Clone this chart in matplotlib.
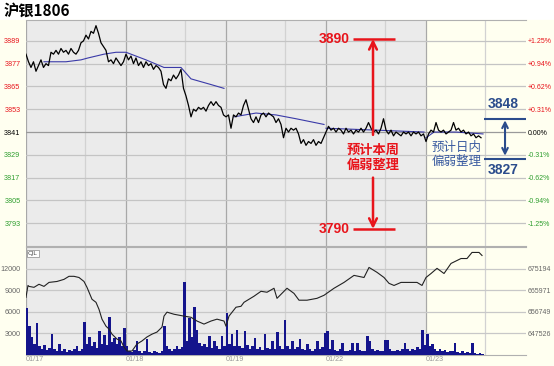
import matplotlib
matplotlib.use('Agg')
import matplotlib.pyplot as plt
import numpy as np

plt.rcParams['font.family'] = ['Liberation Sans', 'Noto Sans CJK SC', 'DejaVu Sans']

# price, 40 samples per trading day
price = [
    3882, 3878, 3875, 3878, 3873, 3876, 3879, 3875, 3877, 3876,
    3883, 3882, 3884, 3882, 3885, 3883, 3884, 3882, 3885, 3883,
    3882, 3884, 3888, 3889, 3892, 3890, 3894, 3893, 3897, 3893,
    3888, 3886, 3884, 3878, 3879, 3877, 3880, 3878, 3876, 3878,
    3882, 3879, 3881, 3877, 3880, 3876, 3878, 3875, 3878, 3876,
    3877, 3874, 3876, 3875, 3873, 3866, 3864, 3869, 3868, 3871,
    3869, 3871, 3874, 3864, 3860, 3855, 3849, 3853, 3852, 3854,
    3853, 3854, 3852, 3855, 3857, 3855, 3857, 3855, 3854, 3850,
    3849, 3850, 3843, 3850, 3849, 3851, 3850, 3855, 3858, 3853,
    3848, 3846, 3849, 3846, 3850, 3851, 3849, 3851, 3850, 3849,
    3846, 3848, 3845, 3838, 3843, 3841, 3843, 3842, 3843, 3840,
    3835, 3837, 3834, 3836, 3835, 3837, 3834, 3836, 3835, 3838,
    3841, 3844, 3842, 3843, 3841, 3843, 3842, 3840, 3843, 3841,
    3842, 3840, 3842, 3841, 3843, 3841, 3843, 3846, 3843, 3841,
    3842, 3840, 3843, 3848, 3842, 3840, 3842, 3839, 3841, 3840,
    3839, 3841, 3840, 3841, 3839, 3841, 3840, 3841, 3839, 3840,
    3836, 3840, 3842, 3841, 3846, 3842, 3841, 3842, 3840, 3841,
    3842, 3846, 3842, 3843, 3841, 3842, 3840, 3841, 3839, 3840,
    3838, 3839, 3838,
]

volume = [
    6500, 4000, 2500, 1500, 4400, 1200, 900, 1400, 700, 1000,
    2900, 800, 600, 1500, 500, 900, 400, 700, 500, 800,
    1200, 600, 900, 4600, 1500, 2500, 1200, 1800, 1000, 3400,
    1500, 2800, 1400, 5300, 1800, 2400, 1500, 2500, 1200, 3800,
    1200, 600, 400, 700, 1900, 500, 300, 600, 2200, 400,
    300, 500, 400, 300, 600, 4000, 1200, 800, 600, 900,
    1300, 800, 1100, 10100, 2000, 5200, 2500, 6700, 3500, 1600,
    1200, 1500, 1100, 2600, 1000, 1900, 1200, 900, 2600, 1300,
    5900, 1500, 2900, 1200, 3500, 1300, 1000, 3300, 1400, 900,
    1200, 2400, 800, 1100, 700, 2900, 1000, 800, 2000, 900,
    3200, 1200, 900, 4800, 1300, 900, 2000, 800, 1100, 2200,
    900, 700, 1500, 800, 600, 900, 2000, 800, 1100, 3000,
    3400, 900, 2100, 700, 600, 800, 1600, 600, 500, 700,
    1600, 500, 1600, 700, 500, 600, 2700, 2000, 900, 600,
    700, 500, 600, 2100, 2100, 900, 600, 500, 700, 600,
    800, 1700, 900, 600, 800, 700, 1100, 900, 3500, 1400,
    2900, 1200, 1500, 800, 600, 900, 500, 700, 400, 600,
    500, 1600, 400, 300, 500, 300, 400, 300, 1600, 300,
    200, 300, 200,
]

# average price line (nan = break between sessions)
avg_t = [0.18, 0.40, 0.55, 0.62, 0.78, 0.90, 1.00, 1.20, 1.38, 1.55, 1.65, 1.85, 1.98, np.nan,
         2.08, 2.30, 2.50, 2.70, 2.98, np.nan,
         3.00, 3.50, 3.98, np.nan,
         4.00, 4.08, 4.30, 4.57]
avg_p = [3878, 3878, 3879, 3880, 3882, 3883, 3883, 3879, 3875, 3875, 3869, 3866, 3864, np.nan,
         3849, 3851, 3850, 3848, 3845, np.nan,
         3843, 3842, 3841, np.nan,
         3838, 3841, 3841, 3840]

# open interest
oi_t = [0.00, 0.02, 0.03, 0.08, 0.13, 0.18, 0.23, 0.31, 0.38, 0.43, 0.48, 0.53, 0.58, 0.61,
        0.66, 0.70, 0.73, 0.76, 0.80, 0.83, 0.86, 0.91, 0.95, 0.98, 1.01, 1.06, 1.11, 1.16,
        1.21, 1.26, 1.31, 1.36, 1.38, 1.41, 1.48, 1.58, 1.65, 1.71, 1.78, 1.85, 1.91, 1.98,
        2.00, 2.03, 2.10, 2.15, 2.18, 2.28, 2.35, 2.41, 2.48, 2.51, 2.61, 2.68, 2.73, 2.81,
        2.91, 2.98, 3.08, 3.18, 3.28, 3.38, 3.43, 3.51, 3.58, 3.63, 3.68, 3.75, 3.85, 3.91,
        3.96, 4.00, 4.05, 4.11, 4.18, 4.25, 4.35, 4.41, 4.46, 4.53, 4.56]
oi = [662900, 668000, 667600, 667200, 668500, 667600, 669300, 669700, 670600, 671900,
      671900, 671400, 669700, 667200, 662100, 660800, 657800, 653600, 650600, 649400,
      647200, 645100, 644300, 641700, 640000, 640000, 643000, 644300, 646000, 647200,
      648100, 650200, 654900, 656600, 655700, 654900, 654400, 652800, 651500, 652800,
      653600, 652800, 650600, 654900, 658700, 659100, 660800, 663400, 665500, 665100,
      666800, 662500, 666800, 664600, 661700, 661700, 662500, 663800, 666800, 669300,
      672300, 671400, 675700, 673600, 671400, 668900, 668000, 669300, 669300, 669300,
      668000, 671400, 673100, 675300, 673100, 677400, 679500, 679500, 682100, 682100,
      680800]

price_ticks = [3889, 3877, 3865, 3853, 3841, 3829, 3817, 3805, 3793]
pct_labels = ['+1.25%', '+0.94%', '+0.62%', '+0.31%', '0.00%', '-0.31%', '-0.62%', '-0.94%', '-1.25%']
vol_ticks = [3000, 6000, 9000, 12000]
oi_ticks = [647526, 656749, 665971, 675194]
dates = ['01/17', '01/18', '01/19', '01/22', '01/23']

week_hi, week_lo = 3890, 3790
day_hi, day_lo = 3848, 3827

red = '#E8141B'
blue = '#2B4C8C'
gray_bg = '#EBEBEB'
cream = '#FFFFF0'

fig = plt.figure(figsize=(5.54, 3.66), dpi=100)
fig.patches.append(plt.Rectangle((0, 0), 1, 0.9454, transform=fig.transFigure,
                                 color=cream, zorder=-10))

ax = fig.add_axes([0.0469, 0.3279, 0.9026, 0.6175])
ax2 = fig.add_axes([0.0469, 0.0301, 0.9026, 0.2950])

t = np.arange(len(price)) / 40
tv = np.arange(len(volume)) / 40

for a in (ax, ax2):
    a.set_facecolor(gray_bg)
    a.set_xlim(0, 5)
    a.axvspan(4, 5, color=cream, zorder=0)
    for d in range(5):
        a.axvline(d, color='#A8A8A8', lw=0.9, zorder=1)
        a.axvline(d + 0.59, color='#D2D2D2', lw=0.9, zorder=1)
    for s in a.spines.values():
        s.set_color('#B0B0B0')
    a.spines['left'].set_visible(False)
    a.spines['right'].set_visible(False)

# price panel
ax.set_ylim(3781, 3900)
for p in price_ticks:
    ax.axhline(p, color='#9A9A9A' if p == 3841 else '#C4C4C4', lw=0.9, zorder=1)
ax.plot(avg_t, avg_p, color='#3A3AA8', lw=0.8, zorder=3)
ax.plot(t, price, color='black', lw=0.9, zorder=4)
ax.set_xticks([])
ax.set_yticks(price_ticks)
ax.tick_params(axis='y', length=0, labelsize=5.2, pad=4)
for lab, p in zip(ax.get_yticklabels(), price_ticks):
    lab.set_color(red if p > 3841 else ('black' if p == 3841 else '#2E9E2E'))

axr = ax.twinx()
axr.set_ylim(ax.get_ylim())
axr.set_yticks(price_ticks)
axr.set_yticklabels(pct_labels)
axr.tick_params(axis='y', length=0, labelsize=5.0, pad=1.5)
for lab, p in zip(axr.get_yticklabels(), price_ticks):
    lab.set_color(red if p > 3841 else ('black' if p == 3841 else '#2E9E2E'))
for s in axr.spines.values():
    s.set_visible(False)

# weekly range annotation
ax.hlines([week_hi, week_lo], 3.27, 3.69, color=red, lw=1.8, zorder=6)
ax.annotate('', xy=(3.47, week_hi), xytext=(3.47, 3839.5),
            arrowprops=dict(arrowstyle='->', color=red, lw=1.8, mutation_scale=14,
                            shrinkA=0, shrinkB=0), zorder=6)
ax.annotate('', xy=(3.47, week_lo), xytext=(3.47, 3817),
            arrowprops=dict(arrowstyle='->', color=red, lw=1.8, mutation_scale=14,
                            shrinkA=0, shrinkB=0), zorder=6)
ax.text(3.24, week_hi, str(week_hi), color=red, fontsize=10, fontweight='bold',
        ha='right', va='center', zorder=7)
ax.text(3.24, week_lo, str(week_lo), color=red, fontsize=10, fontweight='bold',
        ha='right', va='center', zorder=7)
ax.text(3.47, 3827.8, '预计本周\n偏弱整理', color=red, fontsize=9.5, fontweight='bold',
        ha='center', va='center', linespacing=1.1, family=['Noto Sans CJK SC'], zorder=7)

# intraday range annotation
ax.hlines([day_hi, day_lo], 4.58, 5.0, color=blue, lw=1.5, zorder=6)
ax.annotate('', xy=(4.79, day_hi - 0.8), xytext=(4.79, day_lo + 1.5),
            arrowprops=dict(arrowstyle='<->', color=blue, lw=1.5, mutation_scale=10,
                            shrinkA=0, shrinkB=0), zorder=6)
ax.text(4.77, 3856, str(day_hi), color=blue, fontsize=10, fontweight='bold',
        ha='center', va='center', zorder=7)
ax.text(4.77, 3821, str(day_lo), color=blue, fontsize=10, fontweight='bold',
        ha='center', va='center', zorder=7)
ax.text(4.31, 3829.4, '预计日内\n偏弱整理', color='#3A5BA0', fontsize=9,
        ha='center', va='center', linespacing=1.1, family=['Noto Sans CJK SC'], zorder=7)

# volume panel
ax2.set_ylim(0, 15000)
for v in vol_ticks:
    ax2.axhline(v, color='#C8C8C8', lw=0.9, zorder=1)
ax2.bar(tv, volume, width=0.025, align='edge', color='#14148C', lw=0, zorder=3)
ax2.set_yticks(vol_ticks)
ax2.set_xticks(range(5))
ax2.set_xticklabels(dates, ha='left')
ax2.tick_params(axis='both', length=0, labelsize=5.2, colors='#666666', pad=4)
ax2.tick_params(axis='x', pad=1, colors='#999999')
ax2.text(0.004, 0.965, 'CJL', transform=ax2.transAxes, fontsize=4.5, color='#444444',
         ha='left', va='top', family=['DejaVu Sans'],
         bbox=dict(boxstyle='square,pad=0.15', fc='white', ec='#888888', lw=0.5), zorder=7)

ax3 = ax2.twinx()
ax3.set_ylim(638303, 684416)
ax3.plot(oi_t, oi, color='#222222', lw=0.8, zorder=4)
ax3.set_yticks(oi_ticks)
ax3.tick_params(axis='y', length=0, labelsize=5.0, colors='#666666', pad=1.5)
for s in ax3.spines.values():
    s.set_visible(False)

fig.text(0.006, 0.972, '沪银1806', fontsize=11, fontweight='bold', ha='left', va='center',
         family=['Noto Sans CJK SC'])

fig.savefig('out.png', dpi=100)
